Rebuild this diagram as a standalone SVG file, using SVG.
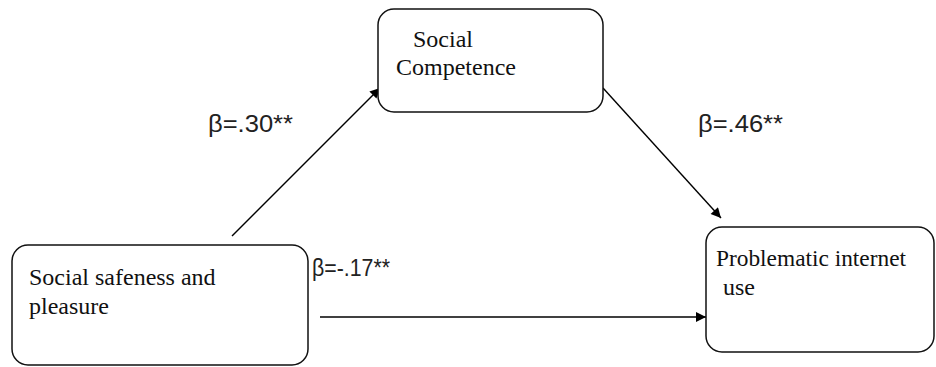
<svg xmlns="http://www.w3.org/2000/svg" width="936" height="367" viewBox="0 0 936 367">
<style>
.box{fill:#fff;stroke:#111;stroke-width:1.5}
.t{font-family:"Liberation Serif","Times New Roman",serif;font-size:24px;fill:#111}
.b{font-family:"Liberation Sans",Arial,sans-serif;font-size:24px;fill:#222}
.c{stroke:#000;stroke-width:1.4;fill:none;marker-end:url(#ah)}
</style>
<defs>
<marker id="ah" viewBox="0 0 10 10" refX="10" refY="5" markerWidth="12" markerHeight="10" markerUnits="userSpaceOnUse" orient="auto">
<path d="M0,0 L10,5 L0,10 z" fill="#000"/>
</marker>
</defs>
<rect width="936" height="367" fill="#fff"/>
<g id="connectors">
<line class="c" x1="232" y1="236" x2="380" y2="88"/>
<line class="c" x1="603" y1="88" x2="721" y2="218"/>
<line class="c" x1="320" y1="317" x2="706" y2="317"/>
</g>
<g id="social-competence">
<rect class="box" x="378" y="9" width="225" height="103" rx="16"/>
<text class="t" x="413" y="47">Social</text>
<text class="t" x="396" y="75">Competence</text>
</g>
<g id="social-safeness">
<rect class="box" x="12" y="245" width="296" height="120" rx="16"/>
<text class="t" x="29" y="285">Social safeness and</text>
<text class="t" x="29" y="314">pleasure</text>
</g>
<g id="problematic-internet-use">
<rect class="box" x="706" y="227" width="228" height="125" rx="16"/>
<text class="t" x="716" y="266" textLength="190" lengthAdjust="spacingAndGlyphs">Problematic internet</text>
<text class="t" x="723" y="295">use</text>
</g>
<g id="labels">
<text class="b" x="208" y="132" textLength="85" lengthAdjust="spacingAndGlyphs">β=.30**</text>
<text class="b" x="698" y="132" textLength="85" lengthAdjust="spacingAndGlyphs">β=.46**</text>
<text class="b" x="312" y="276" textLength="78" lengthAdjust="spacingAndGlyphs">β=-.17**</text>
</g>
</svg>
